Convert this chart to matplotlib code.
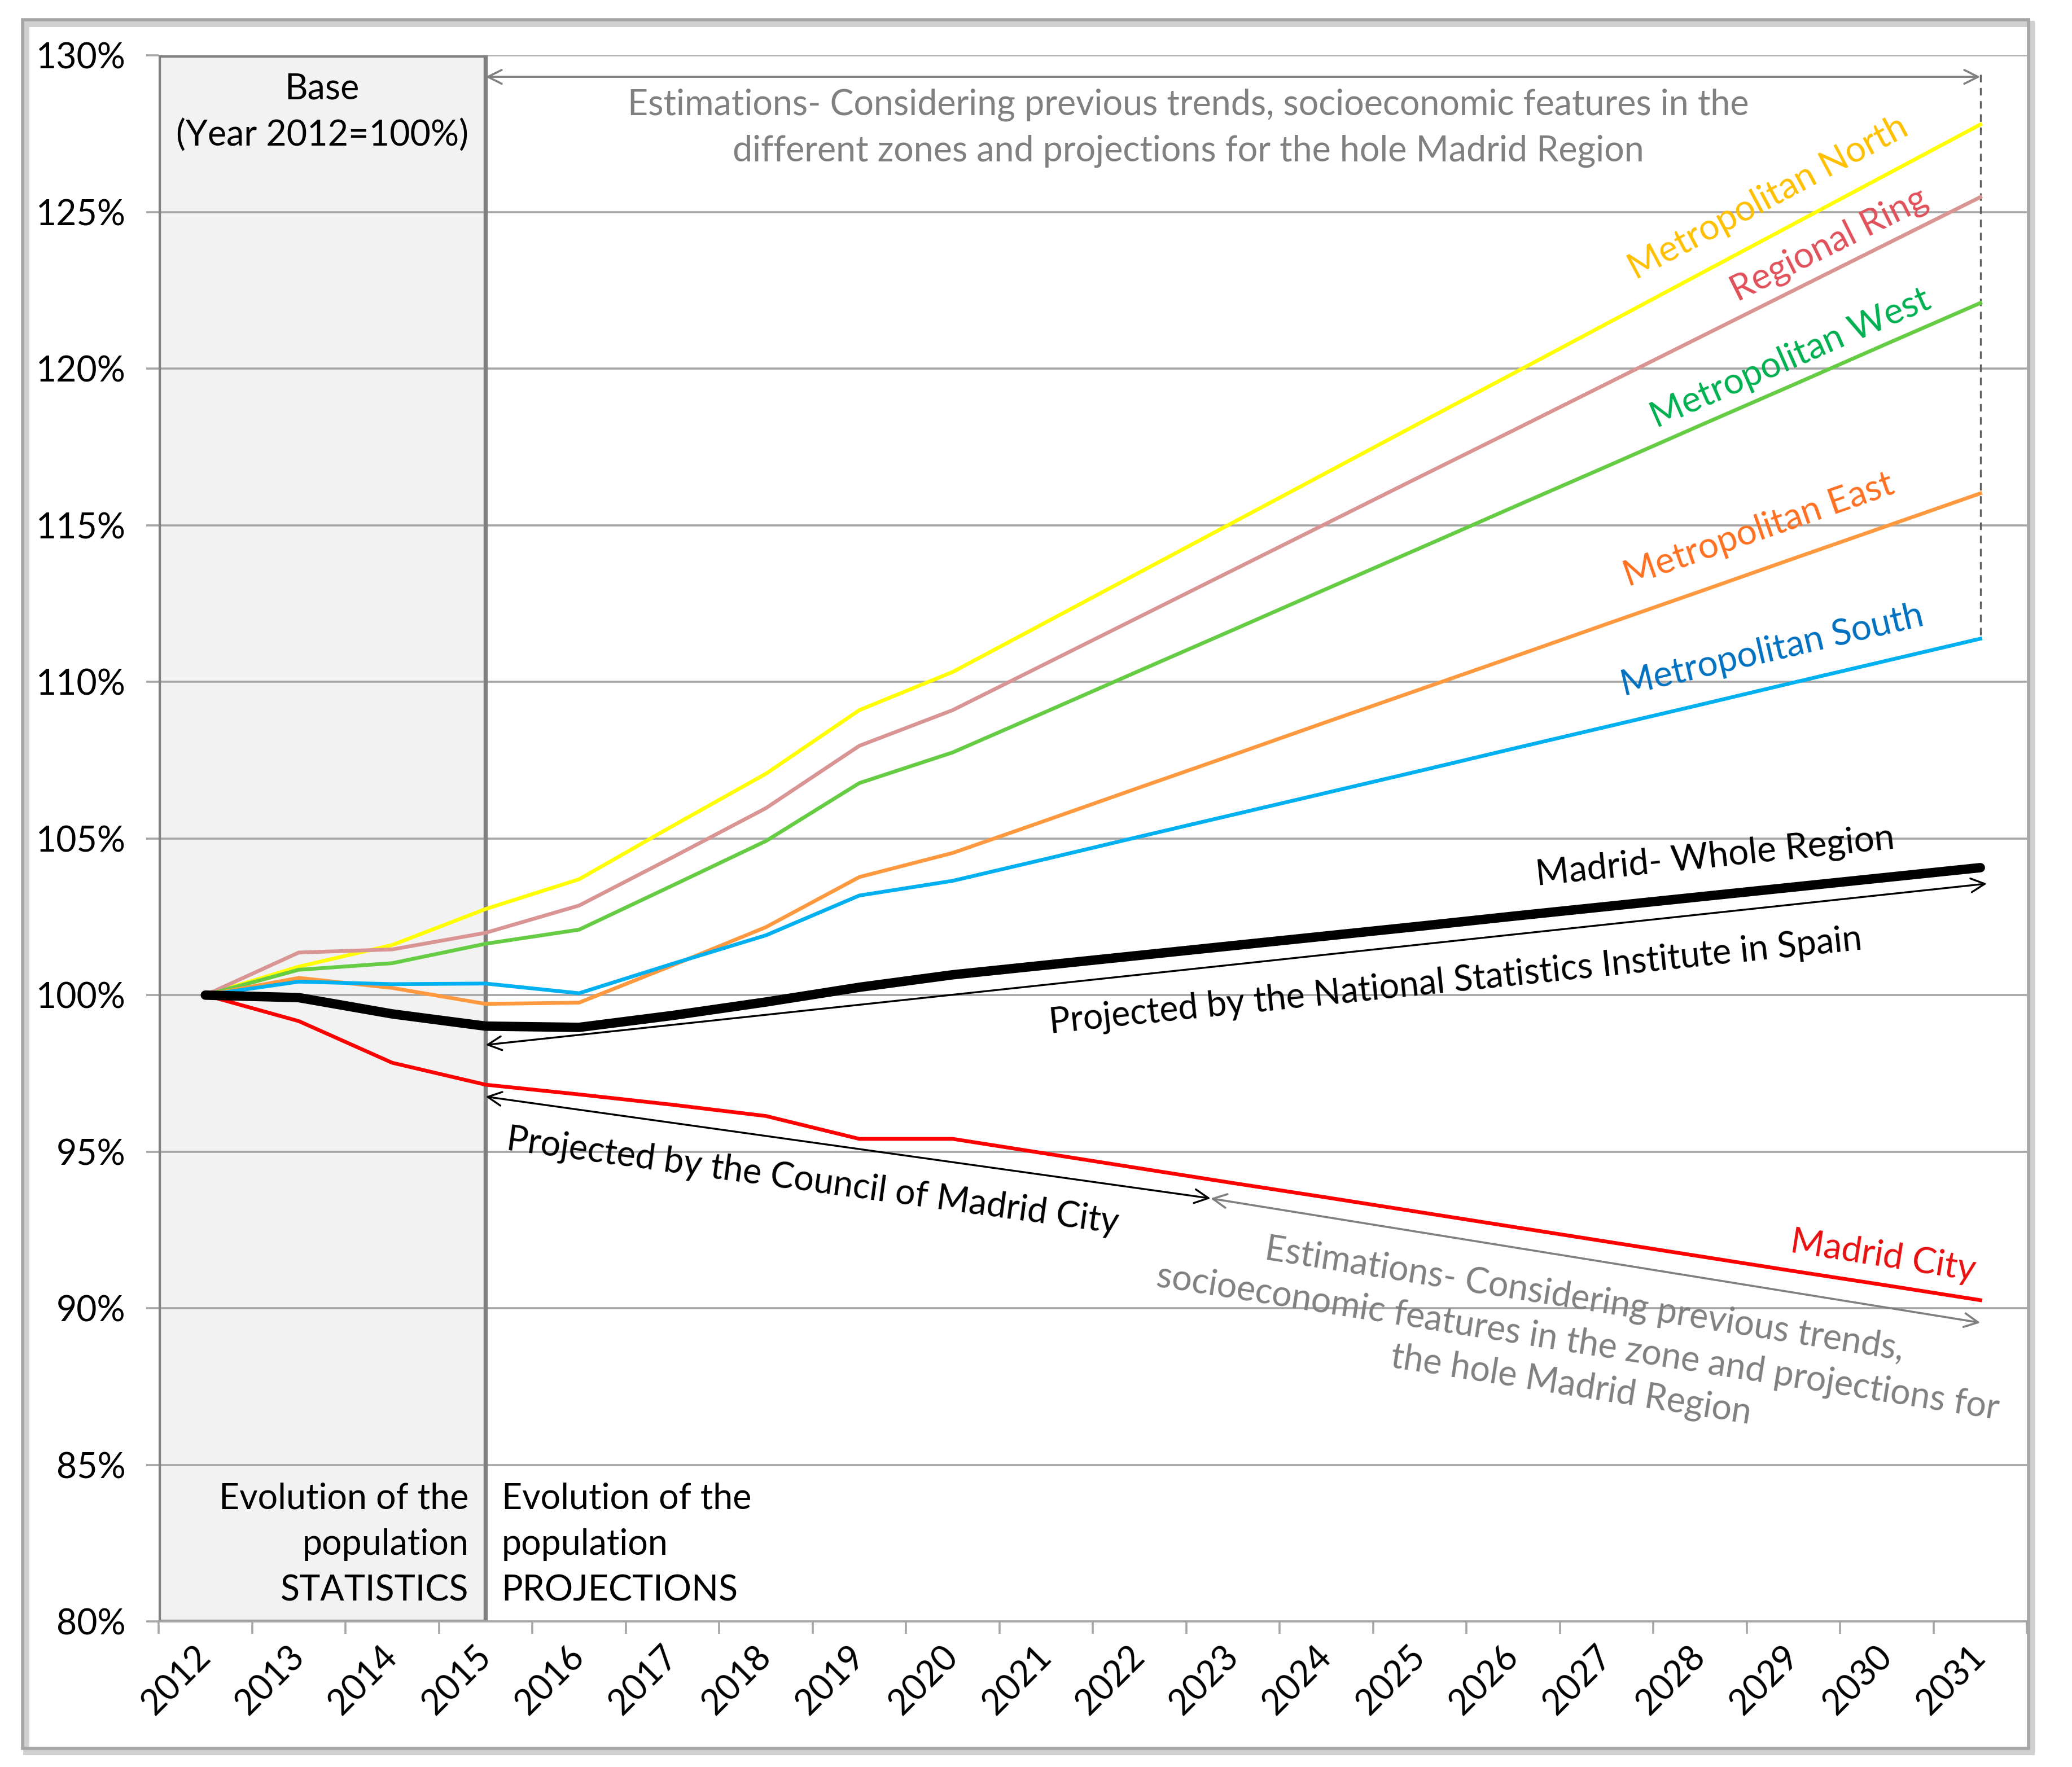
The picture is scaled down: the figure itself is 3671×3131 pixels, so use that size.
import matplotlib
matplotlib.use("Agg")
import matplotlib.pyplot as plt
from matplotlib.patches import Rectangle
import numpy as np

plt.rcParams['font.family'] = ['Lato', 'DejaVu Sans']

years = [str(y) for y in range(2012, 2032)]

metro_north = [100.0, 100.91, 101.6, 102.75, 103.7, 105.4, 107.07, 109.1, 110.32, 111.91, 113.50,
               115.09, 116.68, 118.27, 119.85, 121.44, 123.03, 124.62, 126.21, 127.8]
regional_ring = [100.0, 101.36, 101.46, 101.99, 102.86, 104.4, 105.97, 107.96, 109.1, 110.59, 112.08,
                 113.57, 115.06, 116.55, 118.03, 119.52, 121.01, 122.50, 123.99, 125.48]
metro_west = [100.0, 100.81, 101.02, 101.64, 102.09, 103.5, 104.92, 106.77, 107.75, 109.05, 110.36,
              111.66, 112.97, 114.27, 115.58, 116.88, 118.19, 119.49, 120.80, 122.1]
metro_east = [100.0, 100.55, 100.23, 99.72, 99.76, 100.95, 102.17, 103.77, 104.54, 105.58, 106.63,
              107.67, 108.72, 109.76, 110.80, 111.85, 112.89, 113.94, 114.98, 116.02]
metro_south = [100.0, 100.43, 100.35, 100.37, 100.06, 101.0, 101.91, 103.18, 103.65, 104.35, 105.06,
               105.76, 106.46, 107.16, 107.87, 108.57, 109.27, 109.98, 110.68, 111.38]
whole_region = [100.0, 99.92, 99.4, 99.01, 98.97, 99.35, 99.78, 100.25, 100.65, 100.96, 101.27,
                101.58, 101.89, 102.20, 102.52, 102.83, 103.14, 103.45, 103.76, 104.07]
madrid_city = [100.0, 99.17, 97.84, 97.14, 96.83, 96.5, 96.14, 95.41, 95.41, 94.94, 94.47,
               94.00, 93.54, 93.07, 92.60, 92.13, 91.66, 91.19, 90.73, 90.26]

y_ticks = [80, 85, 90, 95, 100, 105, 110, 115, 120, 125, 130]

W, H = 3671, 3131
dpi = 200
fig = plt.figure(figsize=(W / dpi, H / dpi), dpi=dpi)
ax = fig.add_axes([0.07658, 0.08234, 0.90172, 0.88622])

x = np.arange(len(years))
ax.set_xlim(-0.5, len(years) - 0.5)
ax.set_ylim(80, 130)

# grid
grid_c = '#a6a6a6'
for v in y_ticks:
    ax.axhline(v, color=grid_c, lw=1.3, zorder=1)

# shaded "statistics" box
ax.add_patch(Rectangle((-0.5, 80), 3.5, 50, facecolor='#f2f2f2', edgecolor='#808080',
                       lw=2.6, zorder=0.5))
ax.plot([-0.5, -0.5, 3, 3], [80, 130, 130, 80], color='#808080', lw=2.6, zorder=1.5)

# series
ax.plot(x, madrid_city, color='#ff0000', lw=2.4, zorder=3)
ax.plot(x, metro_north, color='#ffff00', lw=2.4, zorder=3)
ax.plot(x, regional_ring, color='#d99594', lw=2.4, zorder=3)
ax.plot(x, metro_west, color='#66cc44', lw=2.4, zorder=3)
ax.plot(x, metro_east, color='#ff9940', lw=2.4, zorder=3)
ax.plot(x, metro_south, color='#00b0f0', lw=2.4, zorder=3)
ax.plot(x, whole_region, color='#000000', lw=6.0, zorder=4, solid_capstyle='round')

# axes styling
for s in ['left', 'right', 'top']:
    ax.spines[s].set_visible(False)
ax.spines['bottom'].set_color(grid_c)
ax.spines['bottom'].set_linewidth(1.3)

ax.set_yticks(y_ticks)
ax.set_yticklabels([f"{v}%" for v in y_ticks], fontsize=22.5)
ax.tick_params(axis='y', length=8, width=1.3, color=grid_c, pad=13)

ax.set_xticks(x)
ax.set_xticklabels(years, fontsize=22.5, rotation=45, ha='right', va='center',
                   rotation_mode='anchor')
ax.tick_params(axis='x', which='major', length=0, pad=19)
ax.set_xticks(np.arange(-0.5, len(years), 1.0), minor=True)
ax.tick_params(axis='x', which='minor', length=8, width=1.3, color=grid_c)

gray = '#808080'
fs = 22.6
ls = 1.5

# top estimation arrow and text
ax.annotate('', xy=(3, 129.32), xytext=(19, 129.32),
            arrowprops=dict(arrowstyle='<->', color=gray, lw=1.3, shrinkA=0, shrinkB=0,
                            mutation_scale=22), zorder=5)
ax.plot([19, 19], [129.4, 111.38], color='#606060', lw=1.2, ls=(0, (4, 3)), zorder=2)
ax.text(10.52, 127.68,
        "Estimations- Considering previous trends, socioeconomic features in the\n"
        "different zones and projections for the hole Madrid Region",
        ha='center', va='center', color=gray, fontsize=fs, linespacing=ls, zorder=5)

ax.text(1.25, 128.18, "Base\n(Year 2012=100%)", ha='center', va='center', fontsize=fs,
        linespacing=ls, zorder=5)

# NSI arrow
ax.annotate('', xy=(3, 98.41), xytext=(19.07, 103.56),
            arrowprops=dict(arrowstyle='<->', color='black', lw=1.2, shrinkA=0, shrinkB=0,
                            mutation_scale=22), zorder=5)
ax.text(13.38, 100.44, "Projected by the National Statistics Institute in Spain",
        ha='center', va='center', rotation=5.9, fontsize=fs, zorder=5)

# Council arrow
ax.annotate('', xy=(3, 96.76), xytext=(10.76, 93.51),
            arrowprops=dict(arrowstyle='<->', color='black', lw=1.2, shrinkA=0, shrinkB=0,
                            mutation_scale=22), zorder=5)
ax.text(6.50, 94.06, "Projected by the Council of Madrid City",
        ha='center', va='center', rotation=-7.8, fontsize=fs, zorder=5)

# gray estimation arrow (Madrid City)
ax.annotate('', xy=(10.76, 93.51), xytext=(19.0, 89.54),
            arrowprops=dict(arrowstyle='<->', color=gray, lw=1.3, shrinkA=0, shrinkB=0,
                            mutation_scale=22), zorder=5)
ax.text(14.69, 88.91,
        "Estimations- Considering previous trends,\n"
        "socioeconomic features in the zone and projections for\n"
        "the hole Madrid Region",
        ha='center', va='center', rotation=-9.0, color=gray, fontsize=fs,
        linespacing=1.4, multialignment='center', zorder=5)

# bottom texts
ax.text(2.82, 82.45, "Evolution of the\npopulation\nSTATISTICS", ha='right', va='center',
        fontsize=fs, linespacing=ls, multialignment='right', zorder=5)
ax.text(3.17, 82.45, "Evolution of the\npopulation\nPROJECTIONS", ha='left', va='center',
        fontsize=fs, linespacing=ls, multialignment='left', zorder=5)

# series labels
lab_fs = 23
ax.text(16.73, 125.44, "Metropolitan North", color='#ffc000', rotation=28, ha='center',
        va='center', fontsize=lab_fs, zorder=5)
ax.text(17.38, 123.96, "Regional Ring", color='#e0505a', rotation=26.5, ha='center',
        va='center', fontsize=lab_fs, zorder=5)
ax.text(16.97, 120.33, "Metropolitan West", color='#00b050', rotation=23.6, ha='center',
        va='center', fontsize=lab_fs, zorder=5)
ax.text(16.63, 114.84, "Metropolitan East", color='#ff7020', rotation=19.3, ha='center',
        va='center', fontsize=lab_fs, zorder=5)
ax.text(16.77, 111.0, "Metropolitan South", color='#0070c0', rotation=13.2, ha='center',
        va='center', fontsize=lab_fs, zorder=5)
ax.text(16.16, 104.41, "Madrid- Whole Region", color='black', rotation=5.9, ha='center',
        va='center', fontsize=lab_fs, zorder=5)
ax.text(17.96, 91.66, "Madrid City", color='#e81010', rotation=-8.9, ha='center',
        va='center', fontsize=lab_fs, zorder=5)

# outer border with shadow
fig.patches.append(Rectangle((0.0125, 0.0085), 0.968, 0.978, transform=fig.transFigure,
                             facecolor='none', edgecolor='#d0d0d0', lw=4, zorder=0))
fig.patches.append(Rectangle((0.01085, 0.01048), 0.96809, 0.97829, transform=fig.transFigure,
                             facecolor='none', edgecolor='#a6a6a6', lw=2, zorder=1))

fig.savefig('out.png', dpi=dpi)
